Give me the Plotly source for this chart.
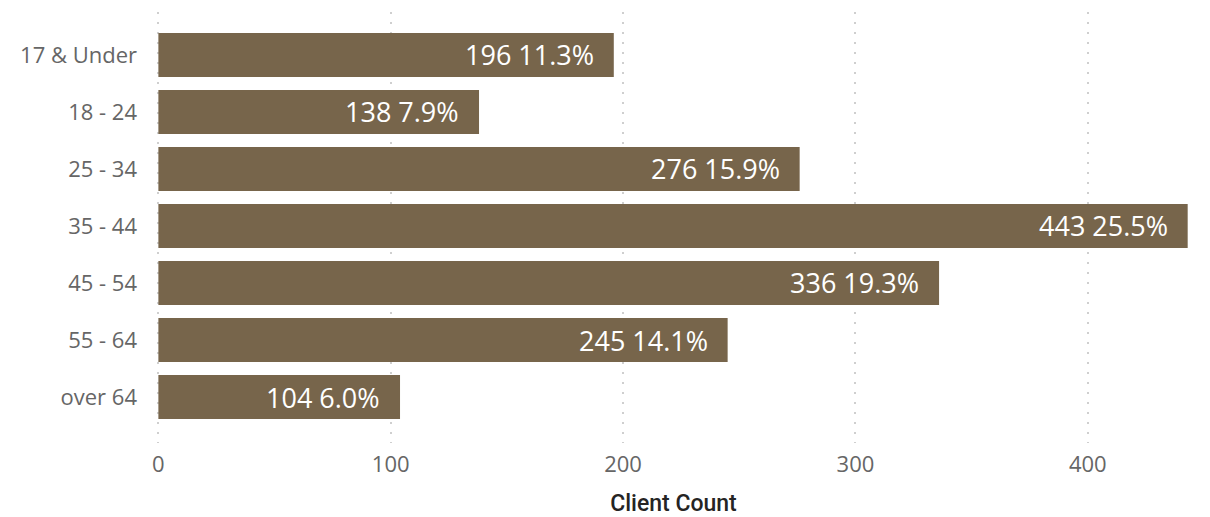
import plotly.graph_objects as go

categories = ["17 & Under", "18 - 24", "25 - 34", "35 - 44", "45 - 54", "55 - 64", "over 64"]
counts = [196, 138, 276, 443, 336, 245, 104]
percents = ["11.3%", "7.9%", "15.9%", "25.5%", "19.3%", "14.1%", "6.0%"]
x_ticks = [0, 100, 200, 300, 400]

labels = [f"{c} {p}" for c, p in zip(counts, percents)]

fig = go.Figure()
fig.add_trace(go.Bar(
    y=categories, x=counts, orientation="h",
    marker=dict(color="#77654B", line=dict(width=0)),
    width=0.77, hoverinfo="skip",
))

for cat, c, lab in zip(categories, counts, labels):
    fig.add_annotation(x=c, y=cat, text=lab, xanchor="right", yanchor="middle",
                       xshift=-18, showarrow=False,
                       font=dict(family="Open Sans", size=27, color="#FFFFFF"))

# page body has an 8px margin, so the figure is sized/offset to compensate
fig.update_layout(
    width=1202, height=509,
    margin=dict(l=149, r=20, t=4, b=74),
    paper_bgcolor="white", plot_bgcolor="white",
    showlegend=False,
    xaxis=dict(
        range=[-0.6, 444], tickvals=x_ticks, ticktext=[str(v) for v in x_ticks],
        showgrid=True, gridcolor="#CFCFCF", gridwidth=1.5, griddash="2px,8px",
        zeroline=False, showline=False, ticks="",
        tickfont=dict(family="Open Sans", size=22, color="#666666"),
        ticklabelstandoff=6,
        title=dict(text="Client Count", standoff=18,
                   font=dict(family="Roboto", size=23, color="#252423", weight=500)),
    ),
    yaxis=dict(
        categoryorder="array", categoryarray=categories,
        range=[6.807, -0.754],
        showgrid=False, zeroline=False, showline=False, ticks="",
        tickfont=dict(family="Open Sans", size=22, color="#666666"),
        ticklabelstandoff=19,
    ),
)

fig.write_html("out.html")
